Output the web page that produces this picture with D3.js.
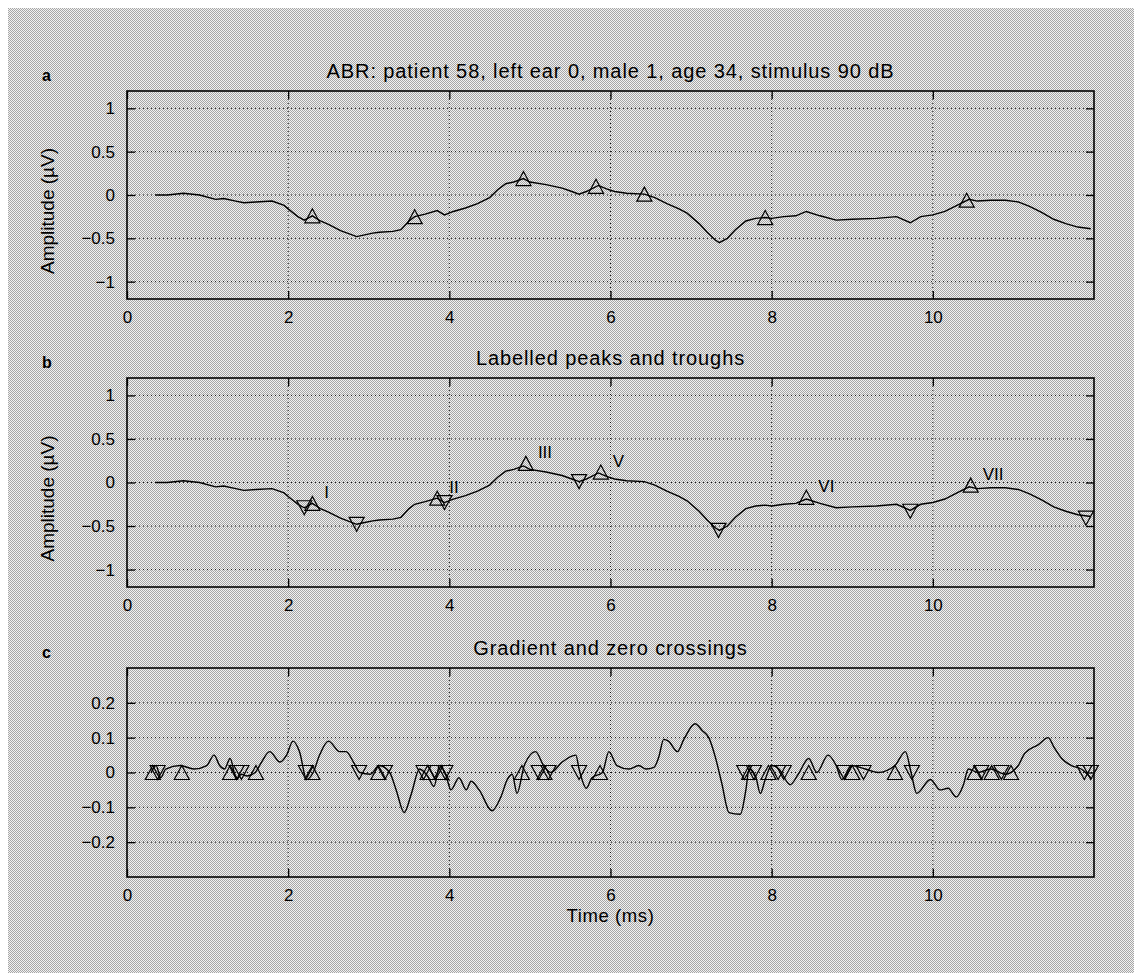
<!DOCTYPE html>
<html>
<head>
<meta charset="utf-8">
<script src="https://cdn.jsdelivr.net/npm/d3@7"></script>
<style>
  body { margin: 0; background: #fff; }
  svg { display: block; font-family: "Liberation Sans", Arial, Helvetica, sans-serif; }
</style>
</head>
<body>
<svg id="chart" width="1134" height="973"></svg>
<script>
// ABR waveform (ms, uV), shared by panels a and b
var abrTime = [0.35, 0.5, 0.7, 0.9, 1.1, 1.2, 1.35, 1.45, 1.6, 1.8, 1.95, 2.0, 2.12, 2.2, 2.3, 2.4, 2.5, 2.65, 2.85, 2.95,
  3.05, 3.13, 3.3, 3.4, 3.5, 3.57, 3.7, 3.85, 3.94, 4.05, 4.2, 4.35, 4.5, 4.6, 4.7, 4.8, 4.92, 5.0, 5.2, 5.4,
  5.52, 5.61, 5.7, 5.85, 5.95, 6.05, 6.2, 6.42, 6.55, 6.7, 6.85, 6.95, 7.1, 7.2, 7.3, 7.35, 7.45, 7.55, 7.68, 7.8,
  7.92, 8.0, 8.15, 8.3, 8.43, 8.6, 8.8, 9.0, 9.3, 9.55, 9.72, 9.85, 10.0, 10.15, 10.3, 10.45, 10.55, 10.72, 10.9, 11.06,
  11.2, 11.35, 11.5, 11.65, 11.8, 11.96];
var abrAmp = [0.00, 0.00, 0.02, 0.00, -0.05, -0.04, -0.07, -0.09, -0.08, -0.07, -0.12, -0.16, -0.25, -0.29, -0.24, -0.30, -0.34, -0.41, -0.48, -0.46,
  -0.44, -0.43, -0.42, -0.40, -0.30, -0.25, -0.22, -0.18, -0.23, -0.19, -0.15, -0.10, -0.03, 0.06, 0.13, 0.15, 0.19, 0.15, 0.12, 0.08,
  0.04, 0.01, 0.04, 0.11, 0.07, 0.04, 0.02, 0.01, -0.03, -0.10, -0.16, -0.21, -0.33, -0.43, -0.52, -0.55, -0.50, -0.40, -0.30, -0.27,
  -0.26, -0.27, -0.25, -0.24, -0.19, -0.24, -0.29, -0.28, -0.27, -0.25, -0.32, -0.25, -0.23, -0.19, -0.12, -0.05, -0.07, -0.06, -0.06, -0.08,
  -0.13, -0.20, -0.28, -0.33, -0.37, -0.39];

// panel a markers
var peakATime = [2.3, 3.57, 4.92, 5.82, 6.42, 7.92, 10.42];
var peakAAmp = [-0.24, -0.25, 0.19, 0.10, 0.01, -0.26, -0.06];

// panel b labelled peaks and troughs
var peakBTime = [2.3, 3.85, 4.95, 5.88, 8.43, 10.47];
var peakBAmp = [-0.24, -0.18, 0.22, 0.12, -0.17, -0.03];
var peakBLabel = ['I', 'II', 'III', 'V', 'VI', 'VII'];
var troughBTime = [2.2, 2.85, 3.94, 5.61, 7.34, 9.72, 11.9];
var troughBAmp = [-0.29, -0.48, -0.23, 0.01, -0.55, -0.33, -0.41];

// gradient (panel c)
var gradTime = [0.3, 0.36, 0.42, 0.48, 0.66, 0.83, 0.99, 1.08, 1.15, 1.21, 1.28, 1.36, 1.42, 1.49, 1.59, 1.67, 1.77, 1.9, 1.98, 2.06,
  2.14, 2.23, 2.31, 2.39, 2.5, 2.64, 2.72, 2.81, 2.89, 3.02, 3.13, 3.26, 3.34, 3.44, 3.53, 3.63, 3.73, 3.81, 3.88, 3.96,
  4.02, 4.12, 4.21, 4.27, 4.37, 4.53, 4.64, 4.72, 4.78, 4.84, 4.93, 5.07, 5.17, 5.26, 5.4, 5.57, 5.61, 5.7, 5.77, 5.9,
  5.98, 6.08, 6.23, 6.35, 6.44, 6.54, 6.6, 6.66, 6.72, 6.83, 6.91, 7.05, 7.14, 7.22, 7.3, 7.38, 7.47, 7.61, 7.68, 7.72,
  7.8, 7.86, 7.92, 8.0, 8.09, 8.23, 8.33, 8.46, 8.56, 8.7, 8.8, 8.87, 8.99, 9.16, 9.32, 9.53, 9.66, 9.73, 9.8, 9.97,
  10.09, 10.19, 10.29, 10.38, 10.44, 10.56, 10.72, 10.9, 11.06, 11.14, 11.31, 11.43, 11.51, 11.6, 11.72, 11.84, 11.96];
var gradVal = [0.00, 0.02, -0.015, 0.01, 0.02, 0.01, 0.02, 0.05, 0.02, 0.01, 0.04, -0.02, -0.005, -0.01, 0.00, 0.03, 0.06, 0.03, 0.05, 0.09,
  0.06, -0.02, 0.00, 0.05, 0.09, 0.06, 0.06, 0.03, 0.00, -0.005, 0.02, 0.00, -0.05, -0.115, -0.06, 0.01, -0.01, -0.04, 0.02, -0.01,
  -0.05, -0.015, -0.05, -0.025, -0.05, -0.11, -0.07, -0.02, -0.005, -0.06, 0.02, 0.06, 0.02, 0.00, 0.03, 0.05, 0.01, -0.045, -0.015, 0.00,
  0.06, 0.02, 0.01, 0.02, 0.01, 0.015, 0.045, 0.095, 0.09, 0.06, 0.095, 0.14, 0.12, 0.10, 0.045, -0.03, -0.115, -0.12, -0.05, 0.01,
  -0.01, -0.06, -0.02, 0.02, 0.01, -0.035, -0.005, 0.04, 0.00, 0.05, 0.02, -0.02, 0.02, 0.01, 0.00, 0.02, 0.06, 0.00, -0.06, -0.02,
  -0.05, -0.045, -0.07, -0.035, 0.01, 0.00, 0.01, -0.005, 0.02, 0.055, 0.08, 0.10, 0.07, 0.04, 0.02, 0.01, -0.015];

// zero crossings of the gradient
var zeroUpTime = [0.32, 0.68, 1.28, 1.6, 2.3, 3.12, 3.73, 3.9, 4.9, 5.18, 5.87, 7.72, 7.96, 8.46, 9.0, 9.53, 10.52, 10.73, 10.97];
var zeroDownTime = [0.38, 1.36, 1.42, 2.22, 2.88, 3.2, 3.68, 3.83, 3.95, 5.11, 5.23, 5.61, 7.66, 7.78, 8.08, 8.15, 8.9, 9.14, 9.74, 10.6, 10.85, 11.88, 11.96];

var xTicks = [0, 2, 4, 6, 8, 10];
var ampTicks = [-1, -0.5, 0, 0.5, 1];
var gradTicks = [-0.2, -0.1, 0, 0.1, 0.2];

var svg = d3.select('#chart');

// halftone-ish background
var pat = svg.append('defs').append('pattern')
  .attr('id', 'dots').attr('width', 2).attr('height', 2)
  .attr('patternUnits', 'userSpaceOnUse');
pat.append('rect').attr('width', 2).attr('height', 2).attr('fill', '#f2f2f2');
pat.append('rect').attr('width', 1).attr('height', 1).attr('fill', '#a6a6a6');
pat.append('rect').attr('x', 1).attr('y', 1).attr('width', 1).attr('height', 1).attr('fill', '#a6a6a6');
svg.append('rect').attr('x', 8).attr('y', 8).attr('width', 1126).attr('height', 965)
  .attr('fill', 'url(#dots)').attr('shape-rendering', 'crispEdges');

var left = 127, right = 1094;
var x = d3.scaleLinear().domain([0, 12]).range([left, right]);

function triPath(cx, cy, up) {
  var w = 7.5, h = 7;
  if (up) return 'M' + cx + ',' + (cy - h) + 'L' + (cx + w) + ',' + (cy + h) + 'L' + (cx - w) + ',' + (cy + h) + 'Z';
  return 'M' + cx + ',' + (cy + h) + 'L' + (cx + w) + ',' + (cy - h) + 'L' + (cx - w) + ',' + (cy - h) + 'Z';
}

function panel(opt) {
  var y = d3.scaleLinear().domain(opt.ydom).range([opt.bottom, opt.top]);
  var g = svg.append('g');

  // grid
  g.selectAll('.gx').data(xTicks.slice(1)).enter().append('line')
    .attr('x1', function(d) { return x(d); }).attr('x2', function(d) { return x(d); })
    .attr('y1', opt.top).attr('y2', opt.bottom)
    .attr('stroke', '#111').attr('stroke-dasharray', '1,3');
  g.selectAll('.gy').data(opt.yticks).enter().append('line')
    .attr('x1', left).attr('x2', right)
    .attr('y1', function(d) { return y(d); }).attr('y2', function(d) { return y(d); })
    .attr('stroke', '#111').attr('stroke-dasharray', '1,3');

  // axes with inward ticks
  g.append('g').attr('transform', 'translate(0,' + opt.bottom + ')')
    .call(d3.axisBottom(x).tickValues(xTicks).tickSize(-8).tickPadding(12).tickFormat(d3.format('d')));
  g.append('g').attr('transform', 'translate(0,' + opt.top + ')')
    .call(d3.axisTop(x).tickValues(xTicks).tickSize(-8).tickFormat(''));
  g.append('g').attr('transform', 'translate(' + left + ',0)')
    .call(d3.axisLeft(y).tickValues(opt.yticks).tickSize(-8).tickPadding(12).tickFormat(d3.format('~g')));
  g.append('g').attr('transform', 'translate(' + right + ',0)')
    .call(d3.axisRight(y).tickValues(opt.yticks).tickSize(-8).tickFormat(''));
  g.selectAll('.domain').remove();
  g.selectAll('.tick line').attr('stroke', '#000').attr('stroke-width', 1.3);
  g.selectAll('.tick text').attr('fill', '#000').style('font-size', '17px').style('font-family', 'inherit');

  g.append('rect').attr('x', left).attr('y', opt.top)
    .attr('width', right - left).attr('height', opt.bottom - opt.top)
    .attr('fill', 'none').attr('stroke', '#000').attr('stroke-width', 1.6);

  // series
  var line = d3.line()
    .x(function(d) { return x(d[0]); })
    .y(function(d) { return y(d[1]); })
    .curve(opt.curve || d3.curveLinear);
  g.append('path').datum(d3.zip(opt.t, opt.v))
    .attr('d', line).attr('fill', 'none').attr('stroke', '#000').attr('stroke-width', 1.4);

  (opt.marks || []).forEach(function(m) {
    g.selectAll(null).data(d3.zip(m.t, m.v)).enter().append('path')
      .attr('d', function(d) { return triPath(x(d[0]), y(d[1]), m.up); })
      .attr('fill', 'none').attr('stroke', '#000').attr('stroke-width', 1.2);
  });

  if (opt.labels) {
    g.selectAll(null).data(opt.labels).enter().append('text')
      .attr('x', function(d) { return x(d[0]) + 12; })
      .attr('y', function(d) { return y(d[1]) - 11; })
      .attr('dy', '0.35em')
      .style('font-size', '17px')
      .text(function(d) { return d[2]; });
  }

  // title and panel letter
  svg.append('text').attr('x', (left + right) / 2).attr('y', opt.top - 13)
    .attr('text-anchor', 'middle').style('font-size', '20px').style('letter-spacing', '0.9px')
    .text(opt.title);
  svg.append('text').attr('x', 42).attr('y', opt.top - 10)
    .style('font-size', '16px').style('font-weight', 'bold').text(opt.letter);

  if (opt.ylabel) {
    svg.append('text')
      .attr('transform', 'translate(54,' + ((opt.top + opt.bottom) / 2 + 16) + ') rotate(-90)')
      .attr('text-anchor', 'middle').style('font-size', '19px').text(opt.ylabel);
  }
  return y;
}

panel({
  top: 91, bottom: 299, ydom: [-1.2, 1.2], yticks: ampTicks,
  t: abrTime, v: abrAmp,
  marks: [{ t: peakATime, v: peakAAmp, up: true }],
  title: 'ABR: patient 58, left ear 0, male 1, age 34, stimulus 90 dB',
  letter: 'a', ylabel: 'Amplitude (\u00b5V)'
});

panel({
  top: 378, bottom: 587, ydom: [-1.2, 1.2], yticks: ampTicks,
  t: abrTime, v: abrAmp,
  marks: [{ t: peakBTime, v: peakBAmp, up: true }, { t: troughBTime, v: troughBAmp, up: false }],
  labels: d3.zip(peakBTime, peakBAmp, peakBLabel),
  title: 'Labelled peaks and troughs',
  letter: 'b', ylabel: 'Amplitude (\u00b5V)'
});

panel({
  top: 668, bottom: 877, ydom: [-0.3, 0.3], yticks: gradTicks,
  t: gradTime, v: gradVal, curve: d3.curveMonotoneX,
  marks: [
    { t: zeroUpTime, v: zeroUpTime.map(function() { return 0; }), up: true },
    { t: zeroDownTime, v: zeroDownTime.map(function() { return 0; }), up: false }
  ],
  title: 'Gradient and zero crossings',
  letter: 'c'
});

svg.append('text').attr('x', (left + right) / 2).attr('y', 922)
  .attr('text-anchor', 'middle').style('font-size', '18.5px').style('letter-spacing', '0.6px')
  .text('Time (ms)');
</script>
</body>
</html>
